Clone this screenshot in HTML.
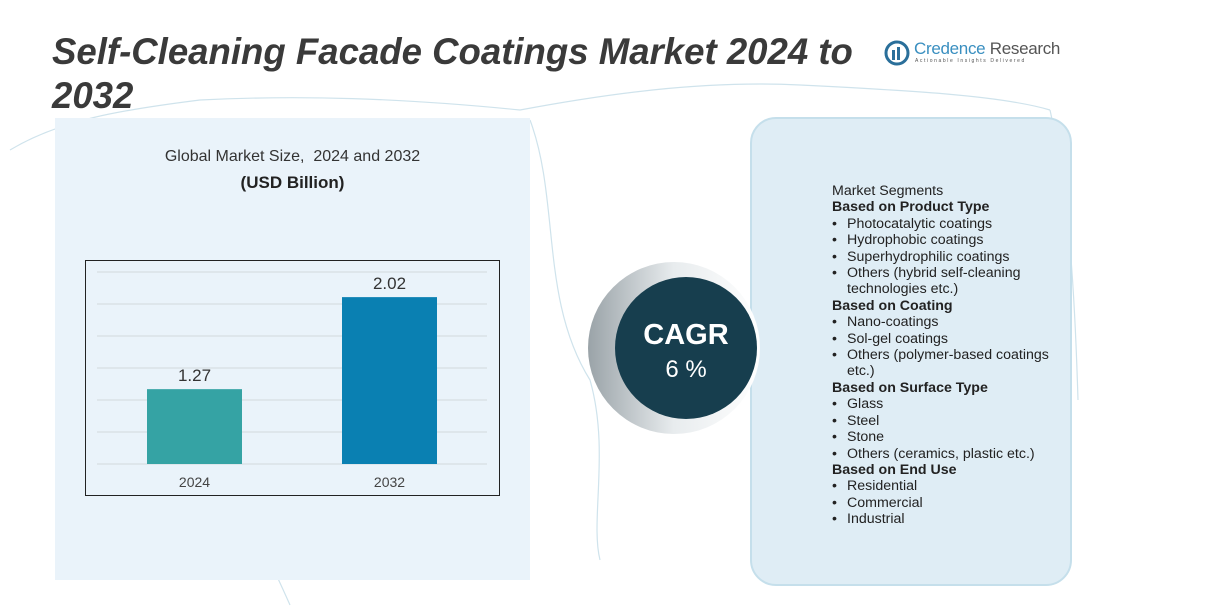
<!DOCTYPE html>
<html><head><meta charset="utf-8"><style>
body{margin:0;width:1222px;height:611px;background:#fff;position:relative;overflow:hidden;font-family:"Liberation Sans",sans-serif;color:#333}
.abs{position:absolute}
#title{left:52px;top:30px;font-size:36.6px;font-weight:bold;font-style:italic;color:#3a3a3a;line-height:44px;width:830px}
#left-panel{left:55px;top:118px;width:475px;height:462px;background:#eaf3fa}
#right-panel{left:750px;top:117px;width:322px;height:469px;background:#dfedf5;border:2px solid #c5dfeb;border-radius:26px;box-sizing:border-box}
#seg{left:832px;top:183px;font-size:14.2px;line-height:16.4px;color:#222}
#seg b{font-weight:bold}
#seg .i{padding-left:15px;position:relative}
#seg .i:before{content:"•";position:absolute;left:0}
#seg .c{padding-left:15px}
</style></head><body>
<svg class="abs" style="left:0;top:0" width="1222" height="611">
<g fill="none" stroke="#cfe3ec" stroke-width="1.2">
<path d="M10 150 C60 120 120 110 200 100 C300 95 400 98 520 110 C600 95 700 80 800 85 C900 90 1000 95 1050 110"/>
<path d="M530 120 C560 200 540 300 590 380 C610 450 590 520 600 560"/>
<path d="M230 480 C250 520 270 560 290 605"/>
<path d="M1050 110 C1070 200 1075 300 1078 400"/>
</g></svg>
<div id="title" class="abs">Self-Cleaning Facade Coatings Market 2024 to 2032</div>
<div class="abs" style="left:884px;top:40px">
<svg width="26" height="26" style="position:absolute;left:0;top:0"><circle cx="13" cy="13" r="11" fill="none" stroke="#2a6f9a" stroke-width="3"/><rect x="8" y="10" width="3" height="10" fill="#2a6f9a"/><rect x="13" y="7" width="3" height="13" fill="#2a6f9a"/></svg>
<div style="position:absolute;left:30px;top:-1px;font-size:17px;white-space:nowrap;color:#3a8fc0;letter-spacing:-0.3px">Credence <span style="color:#555">Research</span></div>
<div style="position:absolute;left:31px;top:18px;font-size:5px;letter-spacing:1.6px;white-space:nowrap;color:#555">Actionable Insights Delivered</div>
</div>
<div id="left-panel" class="abs"></div>
<div class="abs" style="left:55px;width:475px;top:148px;text-align:center;font-size:16px;color:#333">Global Market Size,&nbsp; 2024 and 2032</div>
<div class="abs" style="left:55px;width:475px;top:173px;text-align:center;font-size:17px;font-weight:bold;color:#222">(USD Billion)</div>
<svg id="chart" class="abs" style="left:0;top:0" width="1222" height="611"></svg>
<div id="right-panel" class="abs"></div>
<svg class="abs" style="left:580px;top:250px" width="200" height="200">
<defs><linearGradient id="g" x1="0" x2="1"><stop offset="0" stop-color="#9aa3a8"/><stop offset="0.5" stop-color="#e8ecee"/><stop offset="1" stop-color="#ffffff"/></linearGradient></defs>
<circle cx="94" cy="98" r="86" fill="url(#g)"/>
<circle cx="106" cy="98" r="71" fill="#173e4e"/>
<text x="106" y="94" text-anchor="middle" font-size="29" font-weight="bold" fill="#fff" font-family="Liberation Sans">CAGR</text>
<text x="106" y="127" text-anchor="middle" font-size="24" fill="#fff" font-family="Liberation Sans">6 %</text>
</svg>
<div id="seg" class="abs">
<div>Market Segments</div>
<b>Based on Product Type</b>
<div class="i">Photocatalytic coatings</div>
<div class="i">Hydrophobic coatings</div>
<div class="i">Superhydrophilic coatings</div>
<div class="i">Others (hybrid self-cleaning</div>
<div class="c">technologies etc.)</div>
<b>Based on Coating</b>
<div class="i">Nano-coatings</div>
<div class="i">Sol-gel coatings</div>
<div class="i">Others (polymer-based coatings</div>
<div class="c">etc.)</div>
<b>Based on Surface Type</b>
<div class="i">Glass</div>
<div class="i">Steel</div>
<div class="i">Stone</div>
<div class="i">Others (ceramics, plastic etc.)</div>
<b>Based on End Use</b>
<div class="i">Residential</div>
<div class="i">Commercial</div>
<div class="i">Industrial</div>
</div>
<script>
const categories = ["2024", "2032"];
const values = [1.27, 2.02];
const valueLabels = ["1.27", "2.02"];
const colors = ["#35a3a4", "#0a80b2"];
const NS = "http://www.w3.org/2000/svg";
const svg = document.getElementById("chart");
const baseY = 464, vMin = 0.66, pxPerUnit = 122.7;
function yScale(v){ return baseY - (v - vMin) * pxPerUnit; }
function xScale(i){ return 147 + i * 195; }
const barW = 95;
function mk(tag, attrs){ const e=document.createElementNS(NS,tag); for(const k in attrs) e.setAttribute(k,attrs[k]); svg.appendChild(e); return e; }
const frame = mk("rect",{x:85.5,y:260.5,width:414,height:235,fill:"none",stroke:"#222","stroke-width":1});


for (let k=0;k<7;k++){
  const y = baseY - k*32;
  const g = mk("line",{x1:97,x2:487,y1:y,y2:y,stroke:"#d2d8dc","stroke-width":1});
  
  
}
values.forEach((v,i)=>{
  const x = xScale(i), y = yScale(v);
  const r = mk("rect",{x:x,y:y,width:barW,height:baseY-y,fill:colors[i]});
  
  
  const t = mk("text",{x:x+barW/2,y:y-8,"text-anchor":"middle","font-size":17,fill:"#333","font-family":"Liberation Sans"});
  t.textContent = valueLabels[i];
  
  
  const c = mk("text",{x:x+barW/2,y:487,"text-anchor":"middle","font-size":14,fill:"#444","font-family":"Liberation Sans"});
  c.textContent = categories[i];
  
  
});
</script>
</body></html>
